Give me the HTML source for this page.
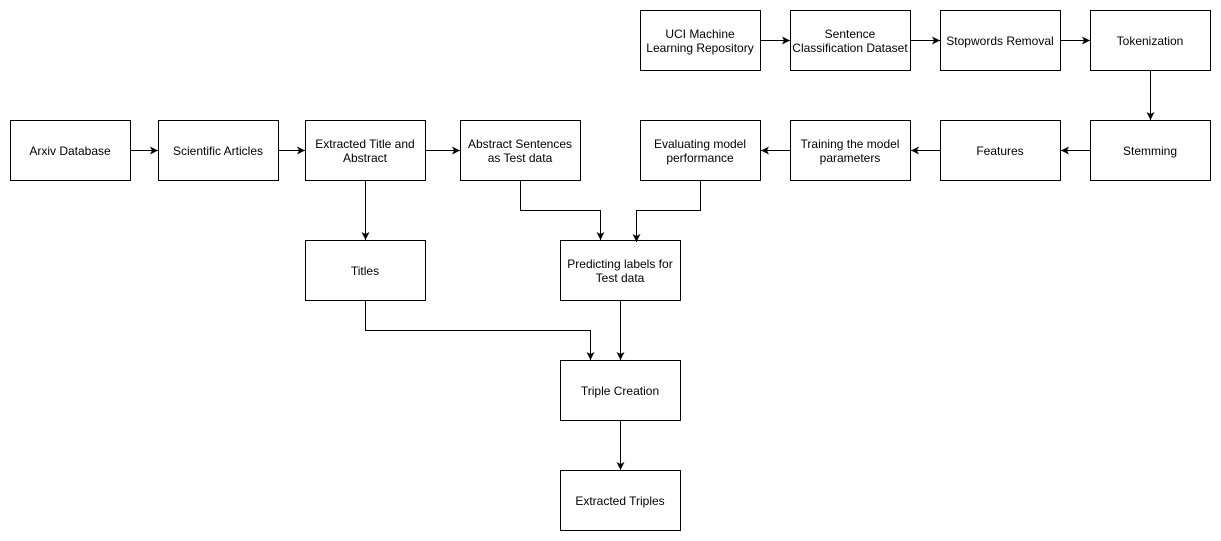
<!DOCTYPE html>
<html><head><meta charset="utf-8"><style>
html,body{margin:0;padding:0;background:#fff;}
svg{display:block;}
text{font-family:"Liberation Sans",Arial,sans-serif;font-size:12px;fill:#000;}
</style></head><body>
<svg width="1221" height="541" viewBox="0 0 1221 541" xmlns="http://www.w3.org/2000/svg">
<defs>
<marker id="a" viewBox="0 0 10 10" refX="10" refY="5" markerWidth="8" markerHeight="8" markerUnits="userSpaceOnUse" orient="auto">
<path d="M0,0 L10,5 L0,10 L2.5,5 z" fill="#000"/>
</marker>
</defs>
<g fill="#fff" stroke="#000" stroke-width="1">
<rect x="640.5" y="10.5" width="120" height="60"/>
<rect x="790.5" y="10.5" width="120" height="60"/>
<rect x="940.5" y="10.5" width="120" height="60"/>
<rect x="1090.5" y="10.5" width="120" height="60"/>
<rect x="10.5" y="120.5" width="120" height="60"/>
<rect x="158.5" y="120.5" width="120" height="60"/>
<rect x="305.5" y="120.5" width="120" height="60"/>
<rect x="460.5" y="120.5" width="120" height="60"/>
<rect x="640.5" y="120.5" width="120" height="60"/>
<rect x="790.5" y="120.5" width="120" height="60"/>
<rect x="940.5" y="120.5" width="120" height="60"/>
<rect x="1090.5" y="120.5" width="120" height="60"/>
<rect x="305.5" y="240.5" width="120" height="60"/>
<rect x="560.5" y="240.5" width="120" height="60"/>
<rect x="560.5" y="360.5" width="120" height="60"/>
<rect x="560.5" y="470.5" width="120" height="60"/>
</g>
<g fill="none" stroke="#000" stroke-width="1" marker-end="url(#a)">
<path d="M760.5,40.5 H790"/>
<path d="M910.5,40.5 H940"/>
<path d="M1060.5,40.5 H1090"/>
<path d="M1150.5,70.5 V120"/>
<path d="M1090.5,150.5 H1061"/>
<path d="M940.5,150.5 H911"/>
<path d="M790.5,150.5 H761"/>
<path d="M130.5,150.5 H158"/>
<path d="M278.5,150.5 H305"/>
<path d="M425.5,150.5 H460"/>
<path d="M365.5,180.5 V240"/>
<path d="M520.5,180.5 V210.5 H600.5 V240"/>
<path d="M700.5,180.5 V210.5 H636.5 V242"/>
<path d="M365.5,300.5 V330.5 H590.5 V360"/>
<path d="M620.5,300.5 V360"/>
<path d="M620.5,420.5 V470"/>
</g>
<g text-anchor="middle">
<text x="700" y="38">UCI Machine</text><text x="700" y="52">Learning Repository</text>
<text x="850" y="38">Sentence</text><text x="850" y="52">Classification Dataset</text>
<text x="1000" y="45">Stopwords Removal</text>
<text x="1150" y="45">Tokenization</text>
<text x="70" y="155">Arxiv Database</text>
<text x="218" y="155">Scientific Articles</text>
<text x="365" y="148">Extracted Title and</text><text x="365" y="162">Abstract</text>
<text x="520" y="148">Abstract Sentences</text><text x="520" y="162">as Test data</text>
<text x="700" y="148">Evaluating model</text><text x="700" y="162">performance</text>
<text x="850" y="148">Training the model</text><text x="850" y="162">parameters</text>
<text x="1000" y="155">Features</text>
<text x="1150" y="155">Stemming</text>
<text x="365" y="275">Titles</text>
<text x="620" y="268">Predicting labels for</text><text x="620" y="282">Test data</text>
<text x="620" y="395">Triple Creation</text>
<text x="620" y="505">Extracted Triples</text>
</g>
</svg>
</body></html>
